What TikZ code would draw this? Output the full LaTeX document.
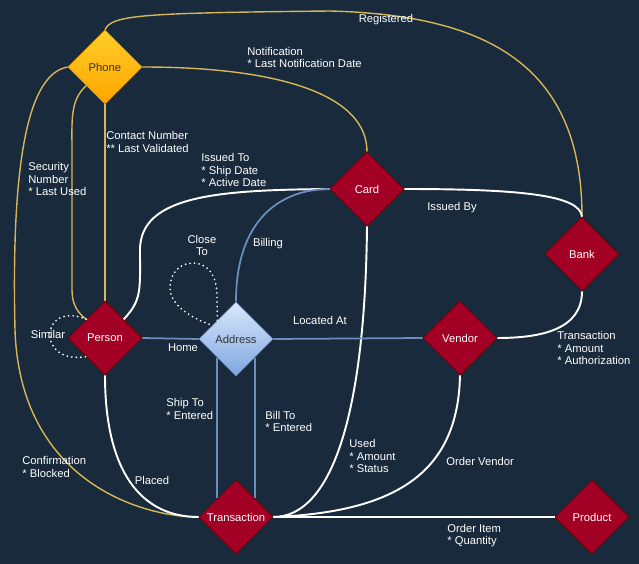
\documentclass[tikz,border=0pt]{standalone}
\usepackage{fontspec}
\setmainfont{Liberation Sans}
\usetikzlibrary{shapes.geometric}
\definecolor{bgnavy}{HTML}{182A3B}
\definecolor{entred}{HTML}{A20025}
\definecolor{entedge}{HTML}{6F0000}
\definecolor{goldline}{HTML}{D6B656}
\definecolor{blueline}{HTML}{6C8EBF}
\definecolor{phonetop}{HTML}{FFCD28}
\definecolor{phonebot}{HTML}{FFA500}
\definecolor{phoneedge}{HTML}{D79B00}
\definecolor{addrtop}{HTML}{DAE8FC}
\definecolor{addrbot}{HTML}{7EA6E0}
\definecolor{addredge}{HTML}{6C8EBF}
\definecolor{darktext}{HTML}{333333}

\begin{document}
\begin{tikzpicture}[x=0.02cm,y=-0.02cm,
		font=\fontsize{6.4}{7.2}\selectfont,
		ent/.style={diamond,aspect=1,minimum width=1.48cm,minimum height=1.48cm,inner sep=0pt,draw=entedge,fill=entred,text=white},
		lbl/.style={text=white,align=left,inner sep=0pt},
		gold/.style={draw=goldline,line width=0.8pt},
		wline/.style={draw=white,line width=1.1pt},
		bline/.style={draw=blueline,line width=1pt},
		loopdots/.style={draw=white,line width=1.1pt,line cap=round,dash pattern=on 0pt off 2.6pt}]
		\fill[bgnavy] (0,0) rectangle (639,564);
		\useasboundingbox (0,0) rectangle (639,564);

		% entities
		\node[ent,draw=phoneedge,top color=phonetop,bottom color=phonebot,text=darktext] (phone) at (105,67) {Phone};
		\node[ent] (card) at (367,189) {Card};
		\node[ent] (bank) at (582,254) {Bank};
		\node[ent] (person) at (105,338) {Person};
		\node[ent,draw=addredge,top color=addrtop,bottom color=addrbot,text=darktext] (address) at (236,339) {Address};
		\node[ent] (vendor) at (460,338) {Vendor};
		\node[ent] (trans) at (236,517) {Transaction};
		\node[ent] (product) at (592,517) {Product};

		% phone relations
		\draw[gold] (phone.north) .. controls (112,15) and (140,13) .. (330,11) .. controls (480,15) and (582,60) .. (bank.north);
		\draw[gold] (phone.east) .. controls (280,67) and (367,95) .. (card.north);
		\draw[gold] (phone.west) .. controls (20,75) and (12,200) .. (15,330) .. controls (20,480) and (140,517) .. (trans.west);
		\draw[gold] (phone.south west) .. controls (70,100) and (72,120) .. (72,150) -- (72,290) .. controls (72,305) and (78,313) .. (person.north west);
		\draw[gold] (phone.south) -- (person.north);

		% white relations
		\draw[wline] (person.north east) .. controls (142,300) and (140,290) .. (140,250) .. controls (140,195) and (220,190) .. (card.west);
		\draw[wline] (card.east) .. controls (520,189) and (580,195) .. (bank.north);
		\draw[wline] (card.south) .. controls (365,420) and (330,517) .. (trans.east);
		\draw[wline] (bank.south) .. controls (582,330) and (540,338) .. (vendor.east);
		\draw[wline] (vendor.south) .. controls (458,470) and (400,512) .. (trans.east);
		\draw[wline] (trans.east) -- (product.west);
		\draw[wline] (person.south) .. controls (105,470) and (140,517) .. (trans.west);

		% self loops
		\draw[loopdots] (person.north west) .. controls (40,300) and (35,365) .. (person.south west);
		\draw[loopdots] (address.north west) -- (217,296) .. controls (217,272) and (205,263) .. (193,263) .. controls (178,263) and (170,275) .. (170,288) .. controls (170,302) and (185,316) .. (address.150);

		% address relations
		\draw[bline] (person.east) -- (address.west);
		\draw[bline] (address.east) -- (vendor.west);
		\draw[bline] (address.north) .. controls (236,220) and (280,189) .. (card.west);
		\draw[bline] (address.south west) -- (trans.north west);
		\draw[bline] (address.south east) -- (trans.north east);

		% labels
		\node[lbl] (lregistered) at (386,20) {Registered};
		\node[lbl,anchor=west] (lnotif) at (247,57.5) {Notification\\* Last Notification Date};
		\node[lbl,anchor=west] (lcontact) at (106,142) {Contact Number\\** Last Validated};
		\node[lbl,anchor=west] (lsecurity) at (28,179) {Security\\Number\\* Last Used};
		\node[lbl,anchor=west] (lissuedto) at (201,170) {Issued To\\* Ship Date\\* Active Date};
		\node[lbl] (lissuedby) at (452,208) {Issued By};
		\node[lbl,align=center] (lclose) at (202,245.5) {Close\\To};
		\node[lbl] (lbilling) at (268,244) {Billing};
		\node[lbl] (lsimilar) at (48,334) {Similar};
		\node[lbl] (lhome) at (183,348) {Home};
		\node[lbl] (llocated) at (320,320) {Located At};
		\node[lbl,anchor=west] (lbanktx) at (557,348) {Transaction\\* Amount\\* Authorization};
		\node[lbl,anchor=west] (lship) at (166,409) {Ship To\\* Entered};
		\node[lbl,anchor=west] (lbill) at (265,421.5) {Bill To\\* Entered};
		\node[lbl,anchor=west] (lused) at (349,456) {Used\\* Amount\\* Status};
		\node[lbl,anchor=west] (lordervendor) at (446,461) {Order Vendor};
		\node[lbl,anchor=west] (lconfirm) at (22,467) {Confirmation\\* Blocked};
		\node[lbl] (lplaced) at (152,480) {Placed};
		\node[lbl,anchor=west] (lorderitem) at (447,535.5) {Order Item\\* Quantity};
	\end{tikzpicture}
\end{document}
